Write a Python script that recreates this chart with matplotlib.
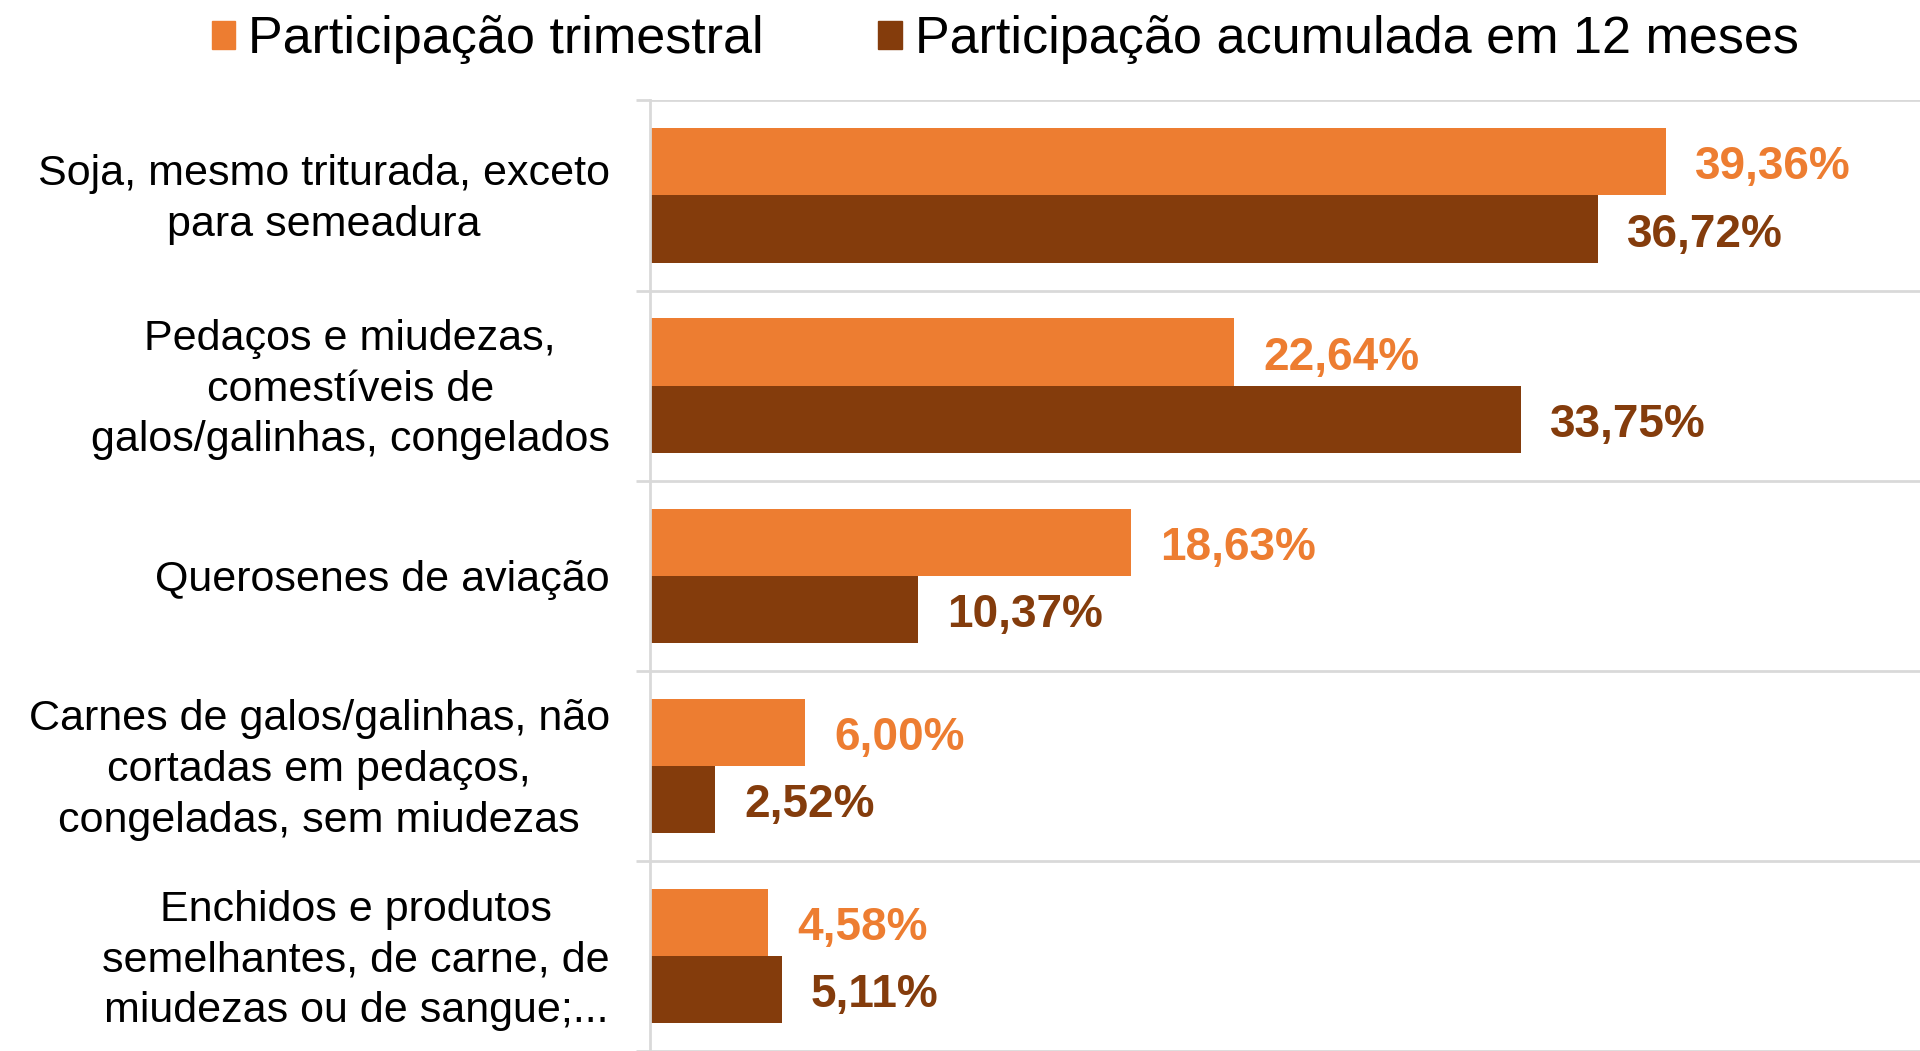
import numpy as np
import matplotlib
matplotlib.use('Agg')
import matplotlib.pyplot as plt
from matplotlib.patches import Patch

plt.rcParams['font.family'] = ['Liberation Sans', 'DejaVu Sans']

# dados
categorias = ['Soja, mesmo triturada, exceto\npara semeadura',
              'Pedaços e miudezas,\ncomestíveis de\ngalos/galinhas, congelados',
              'Querosenes de aviação',
              'Carnes de galos/galinhas, não\ncortadas em pedaços,\ncongeladas, sem miudezas',
              'Enchidos e produtos\nsemelhantes, de carne, de\nmiudezas ou de sangue;...']
trimestral = [39.36, 22.64, 18.63, 6.00, 4.58]
acumulada = [36.72, 33.75, 10.37, 2.52, 5.11]
rotulos_trim = ['39,36%', '22,64%', '18,63%', '6,00%', '4,58%']
rotulos_acum = ['36,72%', '33,75%', '10,37%', '2,52%', '5,11%']

laranja = '#ED7D31'
marrom = '#843C0C'
cinza = '#D9D9D9'

fig = plt.figure(figsize=(19.2, 10.51), dpi=100)
ax = fig.add_axes([650/1920, 0, 1 - 650/1920, 950.6/1051])

y = np.arange(len(categorias))
w = 0.353
ax.barh(y - w/2, trimestral, height=w, color=laranja)
ax.barh(y + w/2, acumulada, height=w, color=marrom)

for yi, v, t in zip(y, trimestral, rotulos_trim):
    ax.annotate(t, (v, yi - w/2), xytext=(21, -4), textcoords='offset points',
                va='center', ha='left', fontsize=33, fontweight='bold', color=laranja)
for yi, v, t in zip(y, acumulada, rotulos_acum):
    ax.annotate(t, (v, yi + w/2), xytext=(21, -4), textcoords='offset points',
                va='center', ha='left', fontsize=33, fontweight='bold', color=marrom)

# rotulos das categorias
for yi, cat in zip(y, categorias):
    ax.annotate(cat, (0, yi), xycoords=('axes fraction', 'data'),
                xytext=(-29, -3), textcoords='offset points',
                ha='right', va='center', multialignment='center',
                fontsize=31, linespacing=1.34, color='black')

ax.set_xlim(0, 49.2)
ax.set_ylim(4.477, -0.5)
ax.set_xticks([])
ax.set_yticks(y)
ax.set_yticklabels([])
ax.tick_params(axis='y', which='major', length=0)
ax.set_yticks(np.arange(-0.5, 5, 1), minor=True)
ax.tick_params(axis='y', which='minor', length=10, width=2, color=cinza)
ax.grid(axis='y', which='minor', color=cinza, linewidth=2)
ax.set_axisbelow(True)

for s in ['top', 'right', 'bottom']:
    ax.spines[s].set_visible(False)
ax.spines['left'].set_color(cinza)
ax.spines['left'].set_linewidth(2)

handles = [Patch(color=laranja, label='Participação trimestral'),
           Patch(color=marrom, label='Participação acumulada em 12 meses')]
fig.legend(handles=handles, loc='center', bbox_to_anchor=(1005/1920, 1 - 40/1051),
           ncol=2, frameon=False, fontsize=37.5, handlelength=0.45, handleheight=0.45,
           handletextpad=0.25, columnspacing=2.2)

fig.savefig('out.png', dpi=100)
